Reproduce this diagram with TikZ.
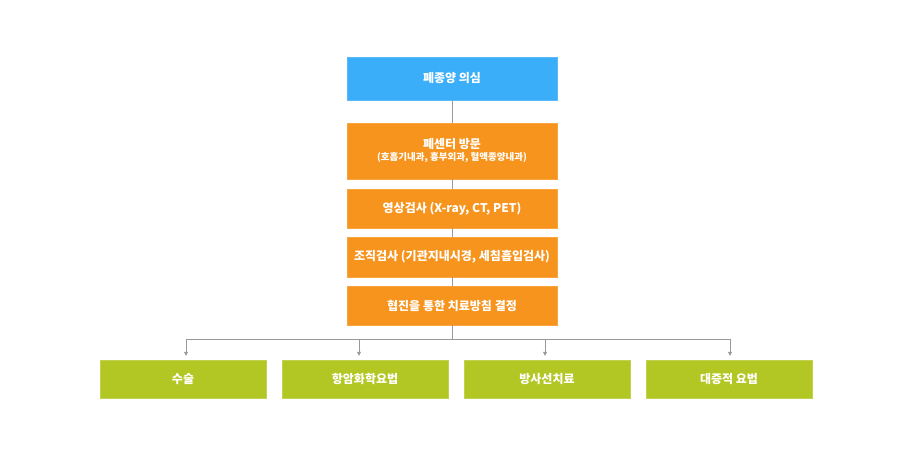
\documentclass[tikz,border=0pt]{standalone}
\usepackage{fontspec}
\setmainfont{Noto Sans CJK KR}
\usetikzlibrary{arrows.meta,positioning}
\definecolor{skyblue}{HTML}{3BAEF9}
\definecolor{tangerine}{HTML}{F7941D}
\definecolor{limegreen}{HTML}{B3C724}
\definecolor{linegray}{HTML}{999999}
\tikzset{
  first/.style={
    fill=skyblue,
    draw=skyblue!85!white,
    text=white,
    align=center,
    minimum width=210pt,
    minimum height=43pt,
    inner sep=2pt,
    font=\fontsize{12}{14}\selectfont\bfseries
  },
  stage/.style={
    fill=tangerine,
    draw=tangerine!85!white,
    text=white,
    align=center,
    minimum width=210pt,
    minimum height=39pt,
    inner sep=2pt,
    font=\fontsize{12}{14}\selectfont\bfseries
  },
  therapy/.style={
    fill=limegreen,
    draw=limegreen!80!white,
    text=white,
    align=center,
    minimum width=166pt,
    minimum height=38pt,
    inner sep=2pt,
    font=\fontsize{12}{14}\selectfont\bfseries
  },
  link/.style={
    linegray,
    line width=.8pt
  },
  arrow/.style={
    -{Triangle[length=4pt,width=4pt]},
    linegray,
    line width=.8pt,
    shorten >=4pt
  }
}
\begin{document}
\begin{tikzpicture}[x=1pt,y=-1pt]
\useasboundingbox (0,0) rectangle (913,458);
\node[first] (doubt) at (452,78.5) {폐종양 의심};
\node[stage,minimum height=56pt] (visit) at (452,151)
  {폐센터 방문\\[-2pt]{\fontsize{9.5}{11}\selectfont(호흡기내과, 흉부외과, 혈액종양내과)}};
\node[stage] (image) at (452,208.5) {영상검사 (X-ray, CT, PET)};
\node[stage,minimum height=40pt] (tissue) at (452,257) {조직검사 (기관지내시경, 세침흡입검사)};
\node[stage] (plan) at (452,305.5) {협진을 통한 치료방침 결정};
\node[therapy] (surgery) at (183,379) {수술};
\node[therapy] (chemo) at (365,379) {항암화학요법};
\node[therapy] (radio) at (547,379) {방사선치료};
\node[therapy] (support) at (729,379) {대증적 요법};
% vertical spine
\draw[link] (doubt.south) -- (visit.north);
\draw[link] (visit.south) -- (image.north);
\draw[link] (image.south) -- (tissue.north);
\draw[link] (tissue.south) -- (plan.north);
\draw[link] (plan.south) -- ++(0,14) coordinate (split);
\draw[arrow] (split) -| ([xshift=3pt]surgery.north);
\draw[arrow] (split) -| ([xshift=-6pt]chemo.north);
\draw[arrow] (split) -| ([xshift=-2pt]radio.north);
\draw[arrow] (split) -| ([xshift=1pt]support.north);
\end{tikzpicture}
\end{document}
